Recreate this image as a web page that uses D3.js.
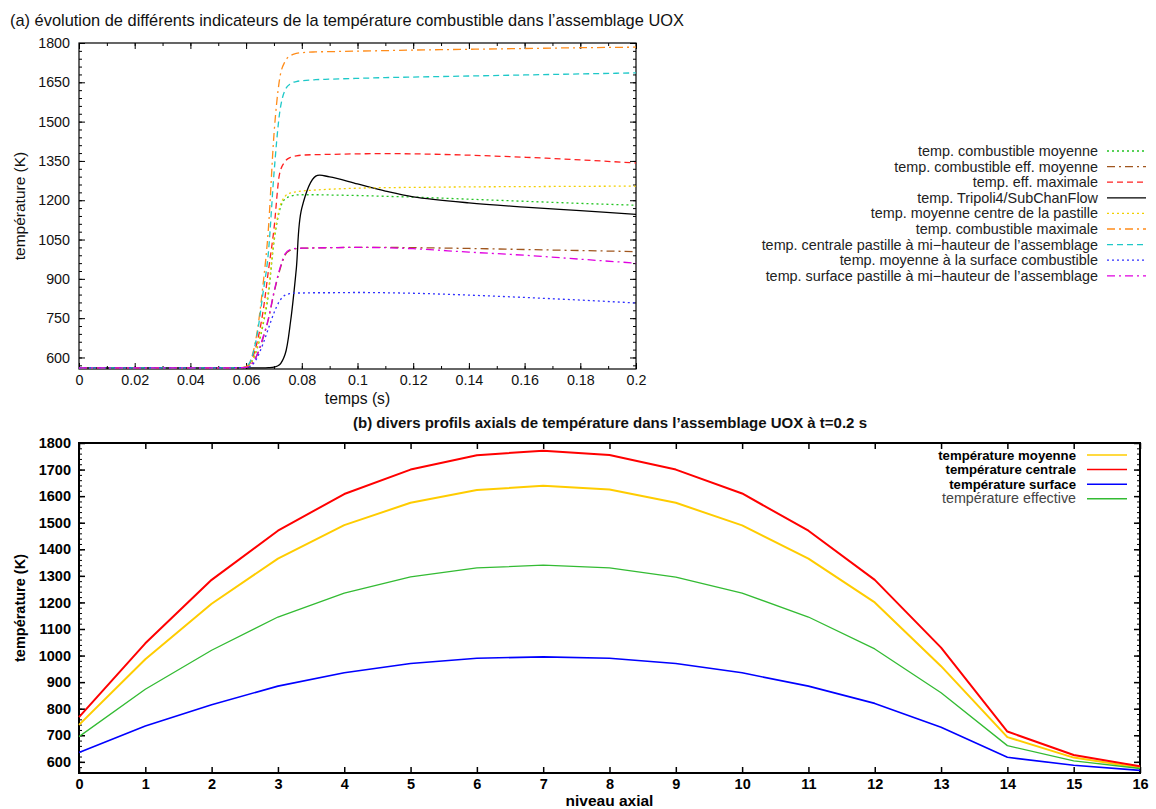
<!DOCTYPE html>
<html><head><meta charset="utf-8">
<script src="https://cdn.jsdelivr.net/npm/d3@7"></script>
<style>body{margin:0;background:#fff} svg{font-family:"Liberation Sans",Arial,Helvetica,sans-serif}</style>
</head><body><svg id="c" width="1156" height="809"></svg>
<script>
// ---------- data: (a) time evolution ----------
const times = [0, 0.05, 0.058, 0.06, 0.062, 0.064, 0.066, 0.068, 0.07, 0.072, 0.074, 0.076, 0.078, 0.08, 0.085, 0.09, 0.1, 0.11, 0.12, 0.14, 0.16, 0.18, 0.2];
const combMoyenne    = [560,560,561,562,582,635,720,840,1040,1160,1205,1215,1220,1221,1221,1220,1218,1215,1212,1204,1196,1188,1181];
const combEffMoyenne = [560,560,561,562,575,610,670,745,845,930,990,1010,1015,1017,1018,1019,1020,1020,1019,1016,1012,1008,1004];
const effMaximale    = [560,560,561,563,590,660,770,930,1090,1300,1348,1364,1369,1372,1374,1375,1377,1378,1377,1372,1364,1354,1342];
const tripoli        = [560,560,560,560,560,560,560,561,563,572,612,740,935,1170,1292,1289,1262,1235,1213,1190,1174,1160,1146];
const moyCentre      = [560,560,561,562,583,640,730,855,1050,1170,1215,1228,1232,1235,1239,1242,1246,1248,1249,1251,1252,1253,1254];
const combMaximale   = [560,560,561,565,600,700,870,1090,1450,1660,1730,1752,1760,1763,1766,1767,1769,1771,1773,1776,1779,1782,1784];
const centraleMiH    = [560,560,561,565,598,690,840,1000,1300,1530,1620,1645,1653,1656,1660,1662,1665,1668,1670,1674,1678,1682,1686];
const moySurface     = [560,560,561,561,570,600,650,710,770,815,838,844,846,846,847,847,848,847,845,838,829,819,808];
const surfaceMiH     = [560,560,561,562,575,612,675,748,850,935,995,1012,1016,1017,1018,1019,1020,1019,1015,1002,990,975,960];
const seriesA = [
  {label:"temp. combustible moyenne", values:combMoyenne, color:"#22c422", dash:"2,3"},
  {label:"temp. combustible eff. moyenne", values:combEffMoyenne, color:"#a0561e", dash:"8,4,2,4"},
  {label:"temp. eff. maximale", values:effMaximale, color:"#ff2020", dash:"6,4"},
  {label:"temp. Tripoli4/SubChanFlow", values:tripoli, color:"#000000", dash:null, smooth:true},
  {label:"temp. moyenne centre de la pastille", values:moyCentre, color:"#f2d000", dash:"2,3"},
  {label:"temp. combustible maximale", values:combMaximale, color:"#ff8c1a", dash:"8,4,2,4"},
  {label:"temp. centrale pastille à mi\u2212hauteur de l\u2019assemblage", values:centraleMiH, color:"#1ec8c8", dash:"6,4"},
  {label:"temp. moyenne à la surface combustible", values:moySurface, color:"#3030ff", dash:"2,3"},
  {label:"temp. surface pastille à mi\u2212hauteur de l\u2019assemblage", values:surfaceMiH, color:"#e000e0", dash:"8,4,2,4"}
];
const ticksA_y = [600,750,900,1050,1200,1350,1500,1650,1800];
const ticksA_x = [0,0.02,0.04,0.06,0.08,0.1,0.12,0.14,0.16,0.18,0.2];

// ---------- data: (b) axial profiles ----------
const niveaux = [0,1,2,3,4,5,6,7,8,9,10,11,12,13,14,15,16];
const tMoyenne   = [739,986,1195,1365,1491,1575,1623,1639,1625,1575,1490,1365,1200,960,693,616,578];
const tCentrale  = [768,1046,1285,1470,1608,1700,1754,1771,1755,1700,1610,1470,1285,1030,714,626,583];
const tSurface   = [635,735,815,885,935,970,990,995,990,970,935,885,820,730,617,587,568];
const tEffective = [695,873,1020,1145,1235,1296,1330,1340,1330,1295,1235,1145,1025,860,661,604,575];
const seriesB = [
  {label:"température moyenne", values:tMoyenne, color:"#ffcc00", w:2, bold:true, tc:"#000", fs:13.2},
  {label:"température centrale", values:tCentrale, color:"#ff0000", w:2, bold:true, tc:"#000", fs:13.2},
  {label:"température surface", values:tSurface, color:"#0000ff", w:1.6, bold:true, tc:"#000", fs:13.2},
  {label:"température effective", values:tEffective, color:"#33bb33", w:1.3, bold:false, tc:"#444", fs:14.3}
];
const ticksB_y = [600,700,800,900,1000,1100,1200,1300,1400,1500,1600,1700,1800];

const svg = d3.select("#c");

// ================= chart (a) =================
const A = {l:79, r:636, t:43, b:369};
const xA = d3.scaleLinear().domain([0,0.2]).range([A.l,A.r]);
const yA = d3.scaleLinear().domain([556,1800]).range([A.b,A.t]);
const gA = svg.append("g");

svg.append("text").attr("x",10).attr("y",26).attr("font-size",16.4).attr("fill","#111")
  .text("(a) évolution de différents indicateurs de la température combustible dans l\u2019assemblage UOX");

svg.append("clipPath").attr("id","clipA").append("rect")
  .attr("x",A.l).attr("y",A.t).attr("width",A.r-A.l).attr("height",A.b-A.t);

function drawAxesA(){
  const minorX = d3.range(0,0.2001,0.01);
  const minorY = d3.range(570,1800,30);
  gA.append("g").attr("transform",`translate(0,${A.b})`)
    .call(d3.axisBottom(xA).tickValues(minorX).tickSize(-3).tickFormat(""))
    .call(g=>g.select(".domain").remove());
  gA.append("g").attr("transform",`translate(0,${A.b})`)
    .call(d3.axisBottom(xA).tickValues(ticksA_x).tickSize(-6).tickPadding(6).tickFormat(d=>d3.format("~g")(d)))
    .call(g=>g.select(".domain").remove())
    .call(g=>g.selectAll("text").attr("font-size",14.3).attr("fill","#111"));
  gA.append("g").attr("transform",`translate(0,${A.t})`)
    .call(d3.axisTop(xA).tickValues(minorX).tickSize(-3).tickFormat(""))
    .call(g=>g.select(".domain").remove());
  gA.append("g").attr("transform",`translate(0,${A.t})`)
    .call(d3.axisTop(xA).tickValues(ticksA_x).tickSize(-6).tickFormat(""))
    .call(g=>g.select(".domain").remove());
  gA.append("g").attr("transform",`translate(${A.l},0)`)
    .call(d3.axisLeft(yA).tickValues(minorY).tickSize(-3).tickFormat(""))
    .call(g=>g.select(".domain").remove());
  gA.append("g").attr("transform",`translate(${A.l},0)`)
    .call(d3.axisLeft(yA).tickValues(ticksA_y).tickSize(-6).tickPadding(9).tickFormat(d3.format("d")))
    .call(g=>g.select(".domain").remove())
    .call(g=>g.selectAll("text").attr("font-size",14.3).attr("fill","#111"));
  gA.append("g").attr("transform",`translate(${A.r},0)`)
    .call(d3.axisRight(yA).tickValues(minorY).tickSize(-3).tickFormat(""))
    .call(g=>g.select(".domain").remove());
  gA.append("g").attr("transform",`translate(${A.r},0)`)
    .call(d3.axisRight(yA).tickValues(ticksA_y).tickSize(-6).tickFormat(""))
    .call(g=>g.select(".domain").remove());
  gA.append("rect").attr("x",A.l).attr("y",A.t).attr("width",A.r-A.l).attr("height",A.b-A.t)
    .attr("fill","none").attr("stroke","#000").attr("stroke-width",1.2);
}
drawAxesA();

const lineA = d3.line().x((d,i)=>xA(times[i])).y(d=>yA(d)).curve(d3.curveMonotoneX);
const lineSmooth = d3.line().x((d,i)=>xA(times[i])).y(d=>yA(d)).curve(d3.curveCatmullRom.alpha(0.5));
seriesA.forEach(s=>{
  gA.append("path").attr("d",(s.smooth?lineSmooth:lineA)(s.values)).attr("clip-path","url(#clipA)")
    .attr("fill","none").attr("stroke",s.color).attr("stroke-width",1.3)
    .attr("stroke-dasharray",s.dash);
});

gA.append("text").attr("x",(A.l+A.r)/2).attr("y",404).attr("text-anchor","middle")
  .attr("font-size",15.7).attr("fill","#111").text("temps (s)");
gA.append("text").attr("transform",`translate(25,${(A.t+A.b)/2}) rotate(-90)`).attr("text-anchor","middle")
  .attr("font-size",15.5).attr("fill","#111").text("température (K)");

seriesA.forEach((s,i)=>{
  const y = 151 + i*15.6;
  gA.append("text").attr("x",1098).attr("y",y+5).attr("text-anchor","end")
    .attr("font-size",14.4).attr("fill","#222").text(s.label);
  gA.append("line").attr("x1",1107).attr("x2",1146).attr("y1",y).attr("y2",y)
    .attr("stroke",s.color).attr("stroke-width",1.3).attr("stroke-dasharray",s.dash);
});

// ================= chart (b) =================
const B = {l:79, r:1140, t:443, b:773};
const xB = d3.scaleLinear().domain([0,16]).range([B.l,B.r]);
const yB = d3.scaleLinear().domain([558,1800]).range([B.b,B.t]);
const gB = svg.append("g").attr("font-weight","bold");

svg.append("text").attr("x",610).attr("y",428).attr("text-anchor","middle").attr("font-size",15)
  .attr("font-weight","bold").attr("fill","#111")
  .text("(b) divers profils axials de température dans l\u2019assemblage UOX à t=0.2 s");

function drawAxesB(){
  const minorY = d3.range(560,1800,20);
  gB.append("g").attr("transform",`translate(0,${B.b})`)
    .call(d3.axisBottom(xB).tickValues(niveaux).tickSize(-6).tickPadding(6).tickFormat(d3.format("d")))
    .call(g=>g.select(".domain").remove())
    .call(g=>g.selectAll("line").attr("stroke-width",1.5))
    .call(g=>g.selectAll("text").attr("font-size",14.5).attr("font-weight","bold").attr("fill","#000"));
  gB.append("g").attr("transform",`translate(0,${B.t})`)
    .call(d3.axisTop(xB).tickValues(niveaux).tickSize(-6).tickFormat(""))
    .call(g=>g.select(".domain").remove())
    .call(g=>g.selectAll("line").attr("stroke-width",1.5));
  gB.append("g").attr("transform",`translate(${B.l},0)`)
    .call(d3.axisLeft(yB).tickValues(minorY).tickSize(-3).tickFormat(""))
    .call(g=>g.select(".domain").remove());
  gB.append("g").attr("transform",`translate(${B.l},0)`)
    .call(d3.axisLeft(yB).tickValues(ticksB_y).tickSize(-6).tickPadding(8).tickFormat(d3.format("d")))
    .call(g=>g.select(".domain").remove())
    .call(g=>g.selectAll("line").attr("stroke-width",1.5))
    .call(g=>g.selectAll("text").attr("font-size",14.5).attr("font-weight","bold").attr("fill","#000"));
  gB.append("g").attr("transform",`translate(${B.r},0)`)
    .call(d3.axisRight(yB).tickValues(minorY).tickSize(-3).tickFormat(""))
    .call(g=>g.select(".domain").remove());
  gB.append("g").attr("transform",`translate(${B.r},0)`)
    .call(d3.axisRight(yB).tickValues(ticksB_y).tickSize(-6).tickFormat(""))
    .call(g=>g.select(".domain").remove())
    .call(g=>g.selectAll("line").attr("stroke-width",1.5));
  gB.append("rect").attr("x",B.l).attr("y",B.t).attr("width",B.r-B.l).attr("height",B.b-B.t)
    .attr("fill","none").attr("stroke","#000").attr("stroke-width",2);
}
drawAxesB();

const lineB = d3.line().x((d,i)=>xB(niveaux[i])).y(d=>yB(d));
seriesB.forEach(s=>{
  gB.append("path").attr("d",lineB(s.values)).attr("fill","none")
    .attr("stroke",s.color).attr("stroke-width",s.w).attr("stroke-linejoin","round");
});

gB.append("text").attr("x",(B.l+B.r)/2).attr("y",806).attr("text-anchor","middle")
  .attr("font-size",15.5).attr("fill","#000").text("niveau axial");
gB.append("text").attr("transform",`translate(25,${(B.t+B.b)/2}) rotate(-90)`).attr("text-anchor","middle")
  .attr("font-size",14.5).attr("fill","#000").text("température (K)");

seriesB.forEach((s,i)=>{
  const y = 455 + i*14.6;
  gB.append("text").attr("x",1076).attr("y",y+4.5).attr("text-anchor","end")
    .attr("font-size",s.fs).attr("font-weight",s.bold?"bold":"normal").attr("fill",s.tc).text(s.label);
  gB.append("line").attr("x1",1087).attr("x2",1127).attr("y1",y).attr("y2",y)
    .attr("stroke",s.color).attr("stroke-width",1.5);
});
</script>
</body></html>
